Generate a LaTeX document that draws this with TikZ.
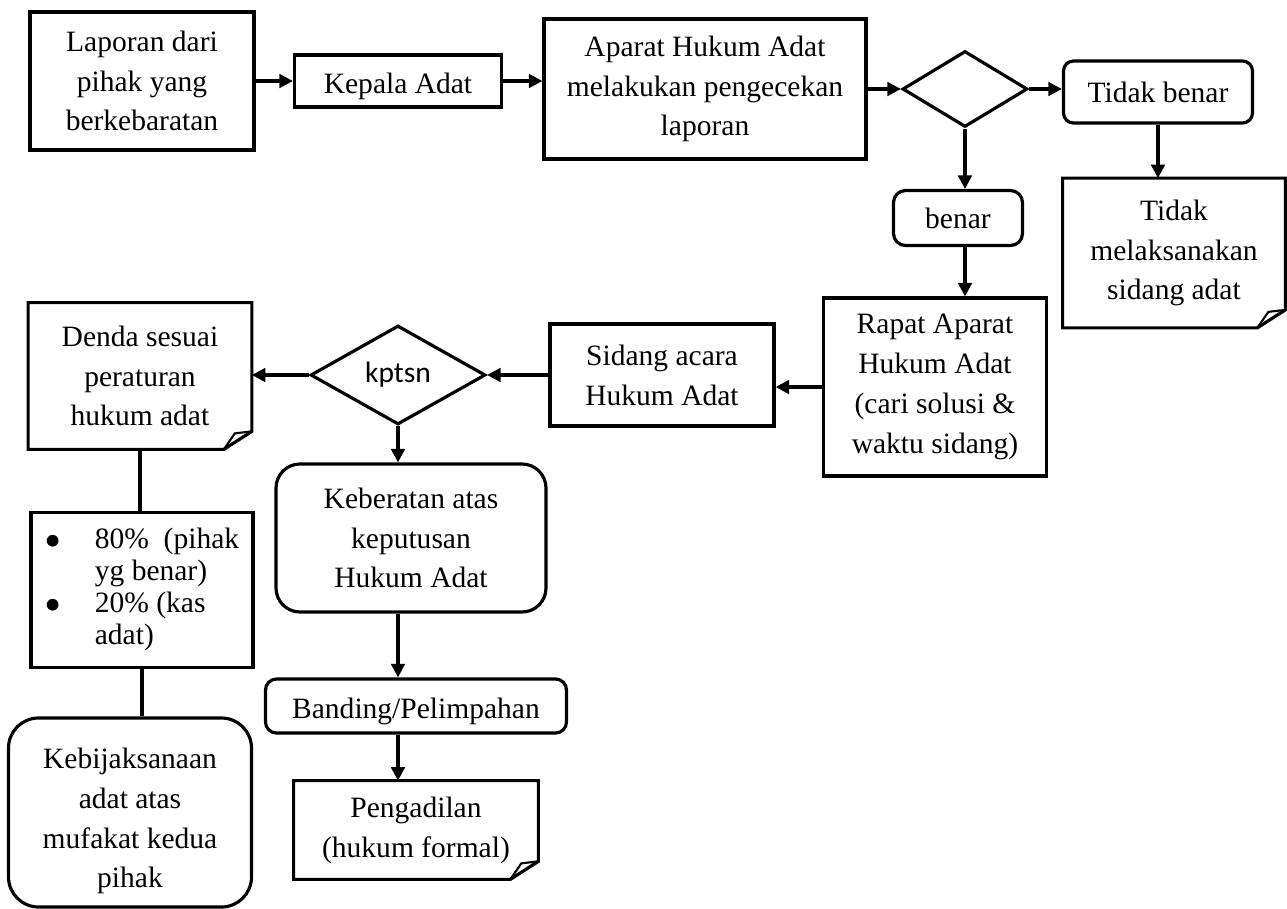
\documentclass[tikz,border=0pt]{standalone}
\usepackage{fontspec}
\setmainfont{Liberation Serif}
\newfontfamily\kptsnfont{Carlito}
\usetikzlibrary{arrows.meta,shapes.geometric}

\begin{document}
\begin{tikzpicture}[font=\fontsize{16.8}{22.7}\selectfont,
  box/.style={draw, line width=1.8pt, align=center, inner sep=0pt},
  roundbox/.style={box, rounded corners=#1},
  roundbox/.default=0.2cm,
  decide/.style={draw, line width=1.8pt, diamond, inner sep=0pt},
  notebox/.style={align=center, inner sep=0pt},
  flow/.style={line width=1.8pt, -{Triangle[length=0.27cm,width=0.27cm]}},
  link/.style={line width=1.8pt}]
  \useasboundingbox (0,0) rectangle (25.74,-18.18);

  \node[box, minimum width=4.48cm, minimum height=2.76cm] (lapor) at (2.84,-1.62)
    {Laporan dari\\pihak yang\\berkebaratan};
  \node[box, minimum width=4.14cm, minimum height=1.04cm, text height=0.50cm, text depth=0pt]
    (kepala) at (7.96,-1.62) {Kepala Adat};
  \node[box, minimum width=6.44cm, minimum height=2.80cm] (cek) at (14.10,-1.78)
    {Aparat Hukum Adat\\melakukan pengecekan\\laporan};
  \node[decide, minimum width=2.50cm, minimum height=1.52cm] (pilih) at (19.30,-1.78) {};
  \node[roundbox, minimum width=3.78cm, minimum height=1.24cm] (tidak) at (23.16,-1.84) {Tidak benar};
  \node[roundbox=0.24cm, minimum width=2.58cm, minimum height=1.10cm] (benar) at (19.16,-4.36) {benar};
  \node[notebox, minimum width=4.44cm, minimum height=2.98cm] (batal) at (23.48,-5.06)
    {Tidak\\melaksanakan\\sidang adat};
  \node[box, minimum width=4.46cm, minimum height=3.56cm] (rapat) at (18.70,-7.74)
    {Rapat Aparat\\Hukum Adat\\(cari solusi \&\\waktu sidang)};
  \node[box, minimum width=4.48cm, minimum height=2.04cm] (sidang) at (13.24,-7.50)
    {Sidang acara\\Hukum Adat};
  \node[decide, minimum width=3.50cm, minimum height=1.98cm] (kptsn) at (7.96,-7.50) {\kptsnfont kptsn};
  \node[notebox, minimum width=4.46cm, minimum height=2.92cm] (denda) at (2.80,-7.52)
    {Denda sesuai\\peraturan\\hukum adat};
  \node[box, minimum width=4.44cm, minimum height=3.10cm, font=\fontsize{16.8}{18.1}\selectfont]
    (bagi) at (2.84,-11.80)
    {\begin{tabular}{@{}p{1.0cm}@{}l@{}}
      \raisebox{-5pt}{\fontsize{28}{18}\selectfont\textbullet} & 80\%\ \ (pihak\\
                  & yg benar)\\
      \raisebox{-5pt}{\fontsize{28}{18}\selectfont\textbullet} & 20\% (kas\\
                  & adat)
    \end{tabular}};
  \node[roundbox=0.6cm, minimum width=4.86cm, minimum height=3.78cm] (bijak) at (2.60,-16.25)
    {\rule{0pt}{0.75cm}Kebijaksanaan\\adat atas\\mufakat kedua\\pihak};
  \node[roundbox=0.48cm, minimum width=5.40cm, minimum height=2.96cm] (keb) at (8.22,-10.76)
    {Keberatan atas\\keputusan\\Hukum Adat};
  \node[roundbox=0.22cm, minimum width=6.02cm, minimum height=1.08cm, text height=0.48cm, text depth=0pt]
    (banding) at (8.32,-14.12) {Banding/Pelimpahan};
  \node[notebox, minimum width=4.88cm, minimum height=1.96cm] (adil) at (8.32,-16.60)
    {Pengadilan\\(hukum formal)};

  \foreach \n in {batal,denda,adil}{
    \draw[line width=1.8pt] (\n.north west) -- (\n.north east) -- ([yshift=0.36cm]\n.south east)
      -- ([xshift=-0.56cm]\n.south east) -- (\n.south west) -- cycle;
    \draw[line width=1.2pt] ([yshift=0.36cm]\n.south east) -- ([xshift=-0.34cm,yshift=0.32cm]\n.south east)
      -- ([xshift=-0.56cm]\n.south east);
  }

  \draw[flow] (lapor.east) -- (kepala.west);
  \draw[flow] (kepala.east) -- (kepala.east -| cek.west);
  \draw[flow] (cek.east |- pilih.west) -- (pilih.west);
  \draw[flow] (pilih.east) -- (pilih.east -| tidak.west);
  \draw[flow] (tidak.south) -- (tidak.south |- batal.north);
  \draw[flow] (pilih.south) -- (pilih.south |- benar.north);
  \draw[flow] (pilih.south |- benar.south) -- (pilih.south |- rapat.north);
  \draw[flow] (rapat.west) -- (rapat.west -| sidang.east);
  \draw[flow] (sidang.west) -- (kptsn.east);
  \draw[flow] (kptsn.west) -- (kptsn.west -| denda.east);
  \draw[flow] (kptsn.south) -- (kptsn.south |- keb.north);
  \draw[flow] (kptsn.south |- keb.south) -- (kptsn.south |- banding.north);
  \draw[flow] (kptsn.south |- banding.south) -- (kptsn.south |- adil.north);
  \draw[link] (denda.south) -- (denda.south |- bagi.north);
  \draw[link] (bagi.south) -- (bagi.south |- bijak.north);
\end{tikzpicture}
\end{document}
